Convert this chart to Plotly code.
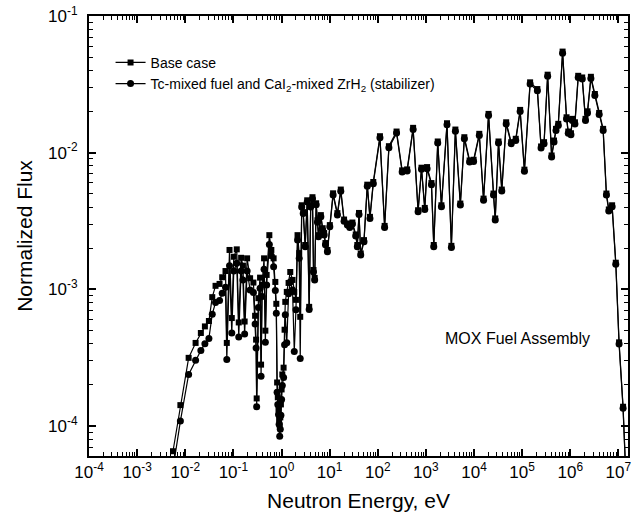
import plotly.graph_objects as go

energy_eV = [
    5.56e-3, 7.92e-3, 1.176e-2, 1.64e-2, 2.11e-2, 2.56e-2, 3.10e-2, 3.64e-2, 4.26e-2, 5.16e-2,
    5.86e-2, 6.86e-2, 7.30e-2, 8.31e-2, 9.27e-2, 0.102, 0.1176, 0.1293, 0.145, 0.158,
    0.1714, 0.193, 0.2228, 0.2608, 0.2828, 0.2966, 0.305, 0.331, 0.3587, 0.3763,
    0.3947, 0.4342, 0.462, 0.4914, 0.559, 0.615, 0.686, 0.744, 0.780, 0.811,
    0.838, 0.867, 0.892, 0.918, 0.944, 0.972, 1.005, 1.039, 1.105, 1.159,
    1.198, 1.288, 1.403, 1.521, 1.697, 1.841, 1.996, 2.154, 2.336, 2.450,
    2.633, 2.827, 3.11, 3.42, 3.76, 4.04, 4.40, 4.62, 4.89, 5.25,
    5.59, 5.87, 6.57, 7.16, 7.69, 8.19, 9.00, 10.1, 11.8, 14.5,
    17.06, 19.96, 23.4, 26.2, 29.7, 34.9, 37.6, 40.8, 44.3, 51.8,
    60.6, 68.9, 80.7, 111.1, 138.9, 170.6, 246, 321.6, 408, 543,
    689, 811, 949, 1059, 1306, 1458, 1764, 2104, 2748, 3390,
    4102, 5203, 6300, 8110, 9810, 1.288e4, 1.58e4, 2.006e4, 2.546e4, 2.76e4,
    3.23e4, 3.78e4, 4.66e4, 5.92e4, 7.37e4, 9.09e4, 1.116e5, 1.465e5, 2.074e5, 2.474e5,
    2.855e5, 3.39e5, 4.10e5, 4.60e5, 5.06e5, 5.64e5, 6.93e5, 8.38e5, 9.09e5, 1.034e6,
    1.10e6, 1.251e6, 1.464e6, 1.772e6, 2.074e6, 2.282e6, 2.684e6, 3.246e6, 3.986e6, 4.824e6,
    5.64e6, 6.33e6, 7.41e6, 8.84e6, 1.034e7, 1.252e7, 1.44e7,
]

base_flux = [
    6.53e-5, 1.42e-4, 3.15e-4, 4.05e-4, 4.79e-4, 5.35e-4, 5.86e-4, 8.76e-4, 1.06e-3, 1.095e-3,
    1.225e-3, 1.36e-3, 4.05e-4, 1.94e-3, 6.16e-4, 1.73e-3, 1.96e-3, 5.72e-4, 1.70e-3, 1.49e-3,
    5.81e-4, 1.685e-3, 1.205e-3, 1.12e-3, 6.40e-4, 4.28e-4, 1.59e-4, 8.61e-4, 1.217e-3, 2.81e-4,
    1.077e-3, 1.685e-3, 4.98e-4, 1.274e-3, 2.49e-3, 1.94e-3, 1.685e-3, 1.132e-3, 7.83e-4, 2.08e-4,
    1.62e-4, 1.32e-4, 1.117e-4, 1.01e-4, 1.155e-4, 1.437e-4, 1.85e-4, 2.38e-4, 2.67e-4, 5.06e-4,
    8.09e-4, 9.57e-4, 1.113e-3, 1.339e-3, 1.171e-3, 9.57e-4, 8.37e-4, 2.49e-3, 1.84e-3, 6.29e-4,
    4.12e-3, 3.67e-3, 2.11e-3, 4.48e-3, 7.44e-4, 4.12e-3, 4.72e-3, 1.385e-3, 1.211e-3, 4.26e-3,
    3.20e-3, 2.49e-3, 3.49e-3, 2.80e-3, 2.58e-3, 2.18e-3, 1.94e-3, 2.95e-3, 5.04e-3, 3.61e-3,
    5.37e-3, 3.24e-3, 3.03e-3, 2.91e-3, 3.08e-3, 2.52e-3, 2.11e-3, 3.62e-3, 1.83e-3, 2.29e-3,
    5.83e-3, 3.39e-3, 6.10e-3, 1.319e-2, 2.91e-3, 1.115e-2, 1.427e-2, 7.42e-3, 7.54e-3, 1.519e-2,
    3.79e-3, 7.76e-3, 3.94e-3, 7.84e-3, 5.99e-3, 2.11e-3, 1.207e-2, 4.12e-3, 1.641e-2, 2.08e-3,
    1.476e-2, 4.24e-3, 1.297e-2, 8.77e-3, 8.87e-3, 1.373e-2, 4.61e-3, 1.921e-2, 5.02e-3, 3.30e-3,
    1.207e-2, 5.37e-3, 1.668e-2, 1.193e-2, 1.263e-2, 2.055e-2, 7.51e-3, 3.27e-2, 2.92e-2, 1.110e-2,
    1.193e-2, 3.72e-2, 9.54e-3, 1.227e-2, 1.493e-2, 1.625e-2, 5.49e-2, 1.815e-2, 1.427e-2, 1.387e-2,
    1.767e-2, 1.668e-2, 3.65e-2, 3.55e-2, 1.767e-2, 2.007e-2, 3.59e-2, 2.687e-2, 1.953e-2, 1.493e-2,
    5.02e-3, 3.84e-3, 4.12e-3, 1.565e-3, 4.09e-4, 1.382e-4, 4.08e-5,
]

tc_flux = [
    4.83e-5, 1.086e-4, 2.38e-4, 3.02e-4, 3.56e-4, 4.00e-4, 4.37e-4, 6.58e-4, 8.00e-4, 8.27e-4,
    9.37e-4, 1.036e-3, 3.06e-4, 1.489e-3, 4.79e-4, 1.362e-3, 1.55e-3, 4.48e-4, 1.362e-3, 1.171e-3,
    4.71e-4, 1.362e-3, 9.90e-4, 9.46e-4, 5.57e-4, 3.72e-4, 1.382e-4, 7.36e-4, 1.019e-3, 2.31e-4,
    8.85e-4, 1.401e-3, 4.09e-4, 1.077e-3, 2.13e-3, 1.76e-3, 1.464e-3, 9.78e-4, 6.69e-4, 1.767e-4,
    1.437e-4, 1.215e-4, 1.027e-4, 8.40e-5, 9.45e-5, 1.195e-4, 1.562e-4, 1.976e-4, 2.26e-4, 3.93e-4,
    6.51e-4, 4.07e-4, 9.26e-4, 1.132e-3, 9.90e-4, 3.50e-4, 7.08e-4, 2.29e-3, 1.69e-3, 3.11e-4,
    4.00e-3, 3.58e-3, 2.05e-3, 4.36e-3, 7.1e-4, 4.0e-3, 4.6e-3, 1.34e-3, 1.17e-3, 4.15e-3,
    3.1e-3, 2.42e-3, 3.4e-3, 2.72e-3, 2.5e-3, 2.12e-3, 1.88e-3, 2.87e-3, 4.9e-3, 3.5e-3,
    5.22e-3, 3.15e-3, 2.95e-3, 2.83e-3, 3.0e-3, 2.45e-3, 2.05e-3, 3.52e-3, 1.78e-3, 2.23e-3,
    5.67e-3, 3.3e-3, 5.93e-3, 1.283e-2, 2.83e-3, 1.085e-2, 1.39e-2, 7.22e-3, 7.33e-3, 1.478e-2,
    3.69e-3, 7.55e-3, 3.83e-3, 7.63e-3, 5.83e-3, 2.05e-3, 1.175e-2, 4.01e-3, 1.597e-2, 2.02e-3,
    1.436e-2, 4.13e-3, 1.262e-2, 8.53e-3, 8.63e-3, 1.336e-2, 4.49e-3, 1.87e-2, 4.89e-3, 3.21e-3,
    1.175e-2, 5.23e-3, 1.623e-2, 1.161e-2, 1.229e-2, 2.0e-2, 7.31e-3, 3.18e-2, 2.84e-2, 1.08e-2,
    1.161e-2, 3.62e-2, 9.28e-3, 1.194e-2, 1.453e-2, 1.582e-2, 5.34e-2, 1.766e-2, 1.389e-2, 1.35e-2,
    1.72e-2, 1.623e-2, 3.55e-2, 3.46e-2, 1.72e-2, 1.953e-2, 3.49e-2, 2.615e-2, 1.9e-2, 1.453e-2,
    4.89e-3, 3.74e-3, 4.01e-3, 1.523e-3, 3.98e-4, 1.345e-4, 3.97e-5,
]

x_exponents = list(range(-4, 8))
y_exponents = [-4, -3, -2, -1]
series_names = [
    "Base case",
    "Tc-mixed fuel and CaI<sub>2</sub>-mixed ZrH<sub>2</sub> (stabilizer)",
]
annotation_text = "MOX Fuel Assembly"

FONT = "Liberation Sans, Arial, Helvetica, sans-serif"

fig = go.Figure()
fig.add_trace(go.Scatter(
    x=energy_eV, y=base_flux, name=series_names[0], mode="lines+markers",
    line=dict(color="black", width=1.2),
    marker=dict(symbol="square", size=6, color="black"),
))
fig.add_trace(go.Scatter(
    x=energy_eV, y=tc_flux, name=series_names[1], mode="lines+markers",
    line=dict(color="black", width=1.2),
    marker=dict(symbol="circle", size=7, color="black"),
))

def minor_vals(exps):
    vals = []
    for e in range(exps[0] - 1, exps[-1] + 1):
        for m in range(2, 10):
            vals.append(m * 10.0 ** e)
    return vals

axis_common = dict(
    type="log", showgrid=False, zeroline=False,
    showline=True, linewidth=2, linecolor="black", mirror="allticks",
    ticks="inside", ticklen=7, tickwidth=1.5, tickcolor="black",
    tickfont=dict(family=FONT, size=17, color="black"),
)

fig.update_xaxes(
    **axis_common,
    range=[-4, 7.2],
    tickmode="array",
    tickvals=[10.0 ** e for e in x_exponents],
    ticktext=[f"10<sup>{e}</sup>" for e in x_exponents],
    minor=dict(tickmode="array", tickvals=minor_vals(x_exponents), ticks="inside",
               ticklen=4, tickwidth=1, tickcolor="black", showgrid=False),
    title=dict(text="Neutron Energy, eV", font=dict(family=FONT, size=21, color="black"), standoff=12),
)
fig.update_yaxes(
    **axis_common,
    range=[-4.22, -1],
    tickmode="array",
    tickvals=[10.0 ** e for e in y_exponents],
    ticktext=[f"10<sup>{e}</sup>" for e in y_exponents],
    minor=dict(tickmode="array", tickvals=minor_vals(y_exponents), ticks="inside",
               ticklen=4, tickwidth=1, tickcolor="black", showgrid=False),
    ticklabelstandoff=6,
    title=dict(text="Normalized Flux", font=dict(family=FONT, size=21, color="black"), standoff=10),
)

fig.add_annotation(
    text=annotation_text, xref="paper", yref="paper", x=0.795, y=0.268,
    xanchor="center", yanchor="middle",
    showarrow=False, font=dict(family=FONT, size=16, color="black"),
)

fig.update_layout(
    width=635, height=523,
    margin=dict(l=89, r=4, t=15, b=67),
    paper_bgcolor="white", plot_bgcolor="white",
    font=dict(family=FONT, color="black"),
    showlegend=True,
    legend=dict(x=0.04, y=0.93, xanchor="left", yanchor="top",
                bgcolor="rgba(0,0,0,0)", font=dict(family=FONT, size=14, color="black"),
                itemwidth=30, tracegroupgap=0),
)

fig.write_html("out.html")
